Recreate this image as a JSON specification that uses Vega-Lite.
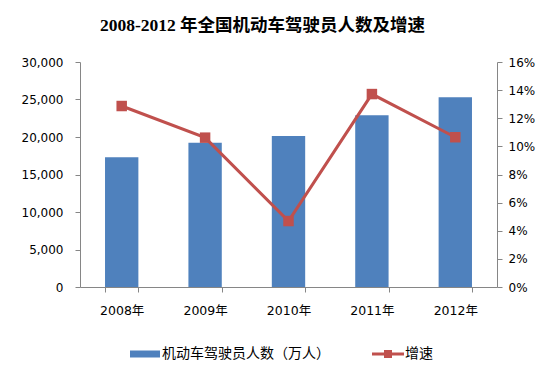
{
  "$schema": "https://vega.github.io/schema/vega-lite/v6.json",
  "width": 417,
  "height": 225,
  "autosize": {"type": "none"},
  "padding": {"left": 80, "top": 62, "right": 58, "bottom": 83},
  "background": "white",
  "title": {
    "text": "2008-2012 年全国机动车驾驶员人数及增速",
    "font": "Liberation Serif, Noto Sans CJK SC",
    "fontSize": 17.5,
    "fontWeight": "bold",
    "color": "#000000",
    "anchor": "middle",
    "dx": -26,
    "offset": 22
  },
  "data": {
    "values": [
      {"year": "2008年", "drivers": 17300, "growth": 0.1287},
      {"year": "2009年", "drivers": 19240, "growth": 0.1062},
      {"year": "2010年", "drivers": 20130, "growth": 0.0469},
      {"year": "2011年", "drivers": 22890, "growth": 0.1372},
      {"year": "2012年", "drivers": 25290, "growth": 0.1065}
    ]
  },
  "encoding": {
    "x": {
      "field": "year",
      "type": "ordinal",
      "sort": null,
      "scale": {"paddingInner": 0.6, "paddingOuter": 0.3},
      "axis": {
        "title": null,
        "labelAngle": 0,
        "tickBand": "extent",
        "labelPadding": 12,
        "tickSize": 5,
        "labelFontSize": 12.5
      }
    }
  },
  "layer": [
    {
      "mark": {"type": "bar"},
      "encoding": {
        "y": {
          "field": "drivers",
          "type": "quantitative",
          "scale": {"domain": [0, 30000], "nice": false},
          "axis": {
            "orient": "left",
            "title": null,
            "values": [0, 5000, 10000, 15000, 20000, 25000, 30000],
            "format": ",d",
            "labelPadding": 12,
            "tickSize": 5
          }
        },
        "color": {
          "datum": "机动车驾驶员人数（万人）",
          "type": "nominal",
          "scale": {
            "domain": ["机动车驾驶员人数（万人）", "增速"],
            "range": ["#4F81BD", "#C0504D"]
          },
          "legend": {
            "orient": "none",
            "legendX": 55,
            "legendY": 282,
            "direction": "horizontal",
            "title": null,
            "symbolSize": 400,
            "labelOffset": 7,
            "labelLimit": 400,
            "columnPadding": 42,
            "labelFontSize": 14,
            "labelFont": "Noto Sans CJK SC",
            "labelColor": "#000000",
            "encode": {
              "symbols": {
                "update": {
                  "shape": {"signal": "datum.value === '增速' ? 'M-1.6,-0.15H1.6V0.15H-1.6Z M-0.4,-0.4H0.4V0.4H-0.4Z' : 'M-1.5,-0.35H1.5V0.35H-1.5Z'"},
                  "fill": {"scale": "color", "field": "value"},
                  "stroke": {"value": "transparent"},
                  "strokeWidth": {"value": 0},
                  "opacity": {"value": 1},
                  "fillOpacity": {"value": 1}
                }
              }
            }
          }
        }
      }
    },
    {
      "mark": {
        "type": "line",
        "strokeWidth": 3,
        "point": {"shape": "square", "size": 110, "filled": true}
      },
      "encoding": {
        "y": {
          "field": "growth",
          "type": "quantitative",
          "scale": {"domain": [0, 0.16], "nice": false},
          "axis": {
            "orient": "right",
            "title": null,
            "values": [0, 0.02, 0.04, 0.06, 0.08, 0.1, 0.12, 0.14, 0.16],
            "format": ".0%",
            "labelPadding": 6,
            "tickSize": 5
          }
        },
        "color": {"datum": "增速", "type": "nominal"}
      }
    }
  ],
  "resolve": {"scale": {"y": "independent"}},
  "config": {
    "view": {"stroke": null},
    "axis": {
      "grid": false,
      "domainColor": "#868686",
      "tickColor": "#868686",
      "labelColor": "#000000",
      "labelFont": "DejaVu Sans, Noto Sans CJK SC",
      "labelFontSize": 12
    }
  }
}
